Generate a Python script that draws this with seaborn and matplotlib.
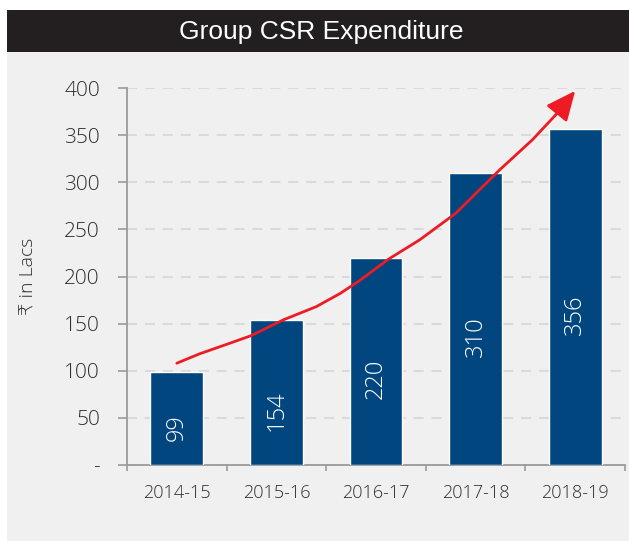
import matplotlib
matplotlib.use("Agg")
import matplotlib.pyplot as plt
import seaborn as sns
import pandas as pd
from matplotlib.patches import Rectangle

# ---- data ----
years = ["2014-15", "2015-16", "2016-17", "2017-18", "2018-19"]
spend = [99, 154, 220, 310, 356]
trend_pos = [0.0, 0.23, 0.5, 0.74, 1.07, 1.4, 1.64, 1.84, 2.12, 2.44, 2.8, 3.24, 3.57, 3.8]
trend_val = [108, 118, 128, 137, 154, 168, 182, 196, 218, 239, 267, 313, 345, 371]
arrow_tip_pos = 4.0
arrow_tip_val = 397
ytick_vals = [0, 50, 100, 150, 200, 250, 300, 350, 400]
ytick_labels = ["-", "50", "100", "150", "200", "250", "300", "350", "400"]
title = "Group CSR Expenditure"
ylabel = "₹ in Lacs"

sns.set_theme(style="white")
plt.rcParams["font.family"] = ["Open Sans", "DejaVu Sans"]

W, H = 629, 541
fig = plt.figure(figsize=(W / 100, H / 100), dpi=100)
fig.patch.set_facecolor("white")
fig.patches.append(Rectangle((7 / W, 0), 1 - 7 / W, (H - 52) / H, transform=fig.transFigure,
                             facecolor="#f0f0f0", edgecolor="none", zorder=-10))
fig.patches.append(Rectangle((7 / W, (H - 52) / H), 1 - 7 / W, 42 / H, transform=fig.transFigure,
                             facecolor="#231f20", edgecolor="none", zorder=-10))
fig.text(321 / W, (H - 32) / H, title, color="white", fontsize=19,
         family=["Liberation Sans", "DejaVu Sans"], ha="center", va="center")

ax = fig.add_axes([127 / W, (H - 465) / H, 498 / W, 377 / H])
ax.set_facecolor("none")

df = pd.DataFrame({"Year": years, "Spend": spend})
sns.barplot(data=df, x="Year", y="Spend", color="#01467f", saturation=1, width=0.53,
            ax=ax, zorder=3)

ax.set_xlim(-0.5, 4.5)
ax.set_ylim(0, 400)
ax.set_axisbelow(True)
ax.yaxis.grid(True, color="#dadada", linestyle=(0, (4.8, 3.8)), linewidth=1.5)
ax.xaxis.grid(False)

ax.set_yticks(ytick_vals, ytick_labels)
ax.tick_params(axis="y", length=6.5, width=1.2, color="#9a9a9a", pad=13,
               labelsize=15, labelcolor="#2e2e2e", left=True)
ax.set_xticks([i - 0.5 for i in range(len(years) + 1)], minor=True)
ax.tick_params(axis="x", which="major", length=0, pad=14, labelsize=13, labelcolor="#2e2e2e")
ax.tick_params(axis="x", which="minor", length=4, width=1.2, color="#9a9a9a", bottom=True)
for lab in ax.get_xticklabels() + ax.get_yticklabels():
    lab.set_fontweight("light")

for s in ["top", "right"]:
    ax.spines[s].set_visible(False)
for s in ["left", "bottom"]:
    ax.spines[s].set_color("#9a9a9a")
    ax.spines[s].set_linewidth(1.3)

ax.set_xlabel("")
ax.set_ylabel(ylabel, fontsize=14, color="#2e2e2e", fontweight="light")
ax.yaxis.set_label_coords(-0.179, 0.5)

for i, v in enumerate(spend):
    ax.text(i, max(v / 2 - 19, 40), str(v), rotation=90, ha="center", va="center",
            color="white", fontsize=17, fontweight="light", zorder=5)

sns.lineplot(x=trend_pos, y=trend_val, ax=ax, color="#ed1c24", linewidth=2, sort=False,
             zorder=6, clip_on=False)
ax.annotate("", xy=(arrow_tip_pos, arrow_tip_val), xytext=(trend_pos[-1], trend_val[-1]),
            arrowprops=dict(arrowstyle="-|>,head_length=1.0,head_width=0.45", mutation_scale=18,
                            color="#ed1c24", lw=2, shrinkA=0, shrinkB=0),
            zorder=7, annotation_clip=False)

fig.savefig("out.png", dpi=100)
